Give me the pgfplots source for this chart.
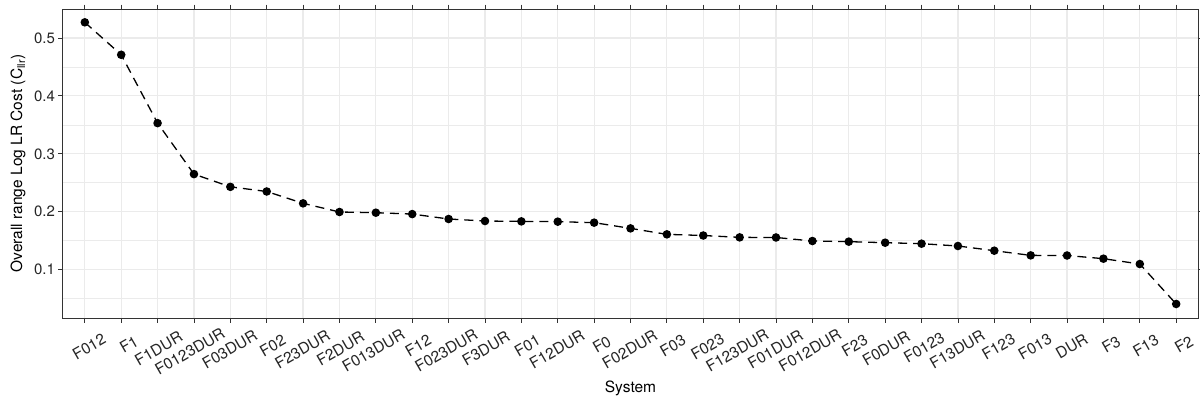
\documentclass[border=0pt]{standalone}
\usepackage{pgfplots}
\pgfplotsset{compat=1.18}
\usepackage{fontspec}
\setmainfont{TeX Gyre Heros}
\definecolor{gridgrey}{HTML}{EBEBEB}
\definecolor{grey20}{HTML}{333333}
\definecolor{grey30}{HTML}{4D4D4D}
\newcommand\lab[1]{\makebox[0.73\width][l]{#1}}
\begin{document}
\begin{tikzpicture}
\useasboundingbox (-63pt,-82pt) rectangle (1137pt,318pt);
\begin{axis}[
  scale only axis,
  width=1135pt, height=309pt,
  xmin=-0.6, xmax=30.6,
  ymin=0.0166, ymax=0.550,
  xtick={0,...,30},
  xticklabels={\lab{F012},\lab{F1},\lab{F1DUR},\lab{F0123DUR},\lab{F03DUR},\lab{F02},\lab{F23DUR},\lab{F2DUR},\lab{F013DUR},\lab{F12},\lab{F023DUR},\lab{F3DUR},\lab{F01},\lab{F12DUR},\lab{F0},\lab{F02DUR},\lab{F03},\lab{F023},\lab{F123DUR},\lab{F01DUR},\lab{F012DUR},\lab{F23},\lab{F0DUR},\lab{F0123},\lab{F13DUR},\lab{F123},\lab{F013},\lab{DUR},\lab{F3},\lab{F13},\lab{F2}},
  xticklabel style={rotate=30, anchor=north east, font=\fontsize{15.5}{16}\selectfont, text=black!85, inner sep=0pt, yshift=-17pt},
  ytick={0.1,0.2,0.3,0.4,0.5},
  minor ytick={0.05,0.15,0.25,0.35,0.45,0.55},
  yticklabel style={font=\fontsize{15}{16}\selectfont, text=black!85},
  /pgf/number format/assume math mode=true,
  /pgf/number format/fixed,
  /pgf/number format/precision=1,
  grid=both,
  major grid style={gridgrey, line width=1.2pt},
  minor grid style={gridgrey, line width=0.6pt},
  tick align=outside,
  major tick length=4.5pt,
  minor tick length=0pt,
  tick style={grey20, line width=0.8pt},
  axis line style={grey20, line width=1pt},
  xlabel={System},
  ylabel={Overall range Log LR Cost (C\textsubscript{llr})},
  label style={font=\fontsize{15.5}{17}\selectfont},
  xlabel style={at={(axis description cs:0.5,-0.2265)}, anchor=center},
  ylabel style={at={(axis description cs:-0.0396,0.5)}, anchor=center},
]
\addplot[black, line width=1.3pt, dash pattern=on 9pt off 6pt, mark=*, mark size=3.6pt, mark options={solid}]
coordinates {
(0,0.527)(1,0.471)(2,0.353)(3,0.265)(4,0.243)(5,0.235)(6,0.2145)(7,0.1996)(8,0.1984)(9,0.196)
(10,0.1875)(11,0.184)(12,0.1834)(13,0.1829)(14,0.1812)(15,0.1713)(16,0.161)(17,0.159)(18,0.1558)(19,0.1556)
(20,0.1495)(21,0.1484)(22,0.1466)(23,0.1449)(24,0.1409)(25,0.1328)(26,0.1247)(27,0.1245)(28,0.119)(29,0.1098)(30,0.0408)
};
\end{axis}
\end{tikzpicture}
\end{document}
